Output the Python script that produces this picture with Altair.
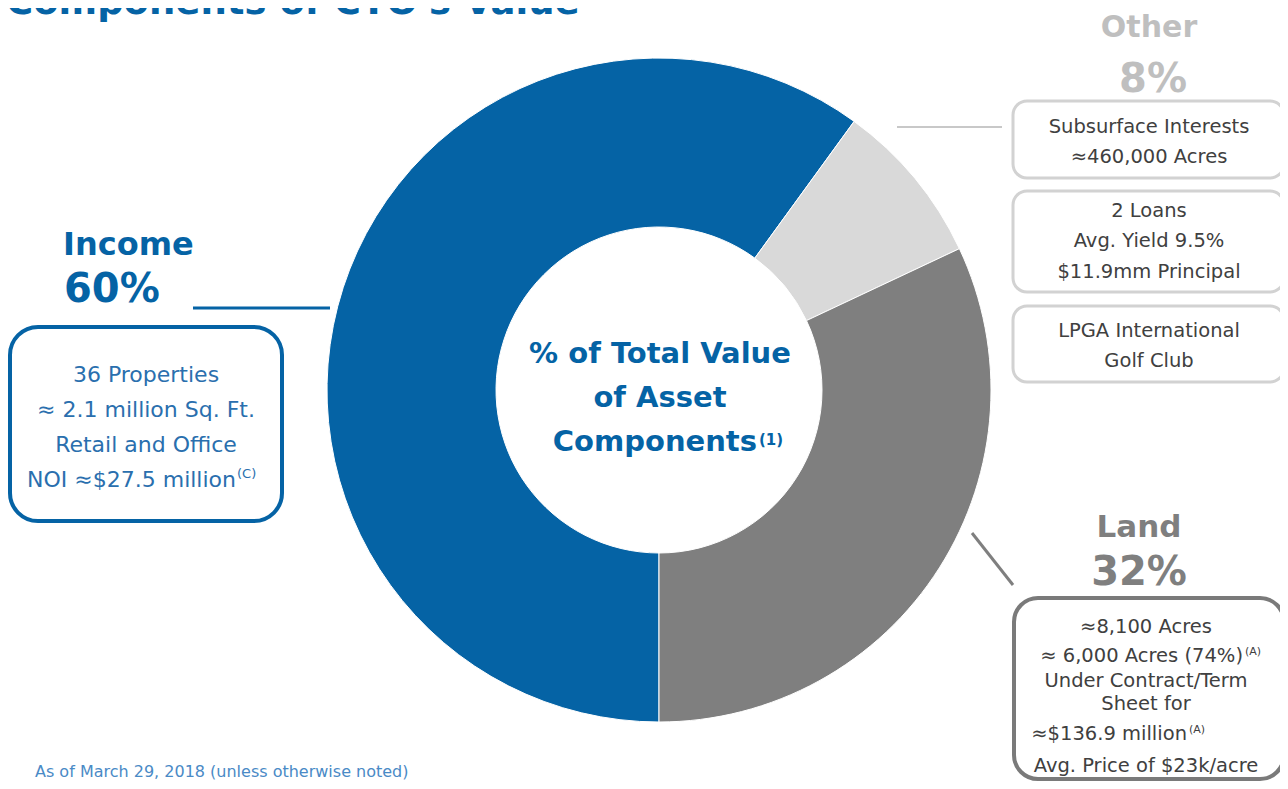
import math
import altair as alt
import pandas as pd

# ---- data ----
categories = ["Income", "Other", "Land"]
shares = [60, 8, 32]
stack_rank = [1, 2, 3]
slice_colors = ["#0563a5", "#d9d9d9", "#7f7f7f"]

title_text = "Components of CTO's Value"
center_lines = ["% of Total Value", "of Asset", "Components"]
center_sup = "(1)"
income_head = ["Income", "60%"]
income_lines = ["36 Properties", "≈ 2.1 million Sq. Ft.", "Retail and Office", "NOI ≈$27.5 million"]
income_sup = "(C)"
other_head = ["Other", "8%"]
other_box1 = ["Subsurface Interests", "≈460,000 Acres"]
other_box2 = ["2 Loans", "Avg. Yield 9.5%", "$11.9mm Principal"]
other_box3 = ["LPGA International", "Golf Club"]
land_head = ["Land", "32%"]
land_lines = ["≈8,100 Acres", "≈ 6,000 Acres (74%)", "Under Contract/Term", "Sheet for",
              "≈$136.9 million", "Avg. Price of $23k/acre"]
land_sup = "(A)"
footer_text = "As of March 29, 2018 (unless otherwise noted)"

donut = pd.DataFrame({"category": categories, "share": shares, "rank": stack_rank})

FONT = "DejaVu Sans"
OFF = 8
BLUE = "#0563a5"
BODY_BLUE = "#2a6fae"
DARK = "#404040"
one = pd.DataFrame({"k": [0]})


def txt(s, x, y, size, color, weight="normal", align="center"):
    return alt.Chart(one).mark_text(
        text=s, fontSize=size, font=FONT, fontWeight=weight, color=color,
        align=align, baseline="alphabetic"
    ).encode(x=alt.value(x - OFF), y=alt.value(y - OFF))


def box(x1, y1, x2, y2, color, width, radius):
    return alt.Chart(one).mark_rect(
        filled=False, stroke=color, strokeWidth=width, cornerRadius=radius
    ).encode(x=alt.value(x1 - OFF), x2=alt.value(x2 - OFF),
             y=alt.value(y1 - OFF), y2=alt.value(y2 - OFF))


def rule(x1, y1, x2, y2, color, width):
    return alt.Chart(one).mark_rule(color=color, strokeWidth=width).encode(
        x=alt.value(x1 - OFF), x2=alt.value(x2 - OFF),
        y=alt.value(y1 - OFF), y2=alt.value(y2 - OFF))


arc = alt.Chart(donut).mark_arc(stroke="white", strokeWidth=1).encode(
    theta=alt.Theta("share:Q", stack=True,
                    scale=alt.Scale(range=[math.pi, 3 * math.pi])),
    order=alt.Order("rank:Q"),
    color=alt.Color("category:N", legend=None,
                    scale=alt.Scale(domain=categories, range=slice_colors)),
    radius=alt.value(332),
    radius2=alt.value(163),
    x=alt.value(659 - OFF),
    y=alt.value(390 - OFF),
)

layers = [arc]

# title (cut off at top, as in the original slide)
layers.append(txt(title_text, 6, 14, 37, BLUE, "bold", "left"))

# centre text
layers.append(txt(center_lines[0], 660, 363, 29, BLUE, "bold"))
layers.append(txt(center_lines[1], 660, 407, 29, BLUE, "bold"))
layers.append(txt(center_lines[2], 757, 451, 29, BLUE, "bold", "right"))
layers.append(txt(center_sup, 759, 445, 15, BLUE, "bold", "left"))

# income
layers.append(txt(income_head[0], 63, 255, 32, BLUE, "bold", "left"))
layers.append(txt(income_head[1], 64, 302, 40, BLUE, "bold", "left"))
layers.append(rule(193, 308, 330, 308, BLUE, 3))
layers.append(box(10, 327, 282, 521, BLUE, 4, 28))
layers.append(txt(income_lines[0], 146, 382, 22, BODY_BLUE))
layers.append(txt(income_lines[1], 146, 417, 22, BODY_BLUE))
layers.append(txt(income_lines[2], 146, 452, 22, BODY_BLUE))
layers.append(txt(income_lines[3], 236, 487, 22, BODY_BLUE, "normal", "right"))
layers.append(txt(income_sup, 237, 478, 13, BODY_BLUE, "normal", "left"))

# other
layers.append(txt(other_head[0], 1149, 37, 30, "#bfbfbf", "bold"))
layers.append(txt(other_head[1], 1153, 92, 40, "#bfbfbf", "bold"))
layers.append(rule(897, 127, 1002, 127, "#c8c8c8", 2))
layers.append(box(1013, 101, 1284, 178, "#d2d2d2", 3, 14))
layers.append(box(1013, 191, 1284, 292, "#d2d2d2", 3, 14))
layers.append(box(1013, 306, 1284, 382, "#d2d2d2", 3, 14))
layers.append(txt(other_box1[0], 1149, 133, 19.5, DARK))
layers.append(txt(other_box1[1], 1149, 163, 19.5, DARK))
layers.append(txt(other_box2[0], 1149, 217, 19.5, DARK))
layers.append(txt(other_box2[1], 1149, 247, 19.5, DARK))
layers.append(txt(other_box2[2], 1149, 278, 19.5, DARK))
layers.append(txt(other_box3[0], 1149, 337, 19.5, DARK))
layers.append(txt(other_box3[1], 1149, 367, 19.5, DARK))

# land
layers.append(txt(land_head[0], 1139, 537, 31, "#7f7f7f", "bold"))
layers.append(txt(land_head[1], 1139, 585, 40, "#7f7f7f", "bold"))
layers.append(rule(972, 533, 1013, 585, "#7f7f7f", 3))
layers.append(box(1014, 598, 1284, 779, "#7a7a7a", 4, 24))
layers.append(txt(land_lines[0], 1146, 633, 19.5, DARK))
layers.append(txt(land_lines[1], 1243, 662, 19.5, DARK, "normal", "right"))
layers.append(txt(land_sup, 1245, 655, 11, DARK, "normal", "left"))
layers.append(txt(land_lines[2], 1146, 687, 19.5, DARK))
layers.append(txt(land_lines[3], 1146, 710, 19.5, DARK))
layers.append(txt(land_lines[4], 1187, 740, 19.5, DARK, "normal", "right"))
layers.append(txt(land_sup, 1189, 733, 11, DARK, "normal", "left"))
layers.append(txt(land_lines[5], 1146, 772, 19.5, DARK))

# footer
layers.append(txt(footer_text, 35, 777, 16, "#4a8ac6", "normal", "left"))

chart = alt.layer(*layers).properties(
    width=1272, height=773, padding=0, autosize="none"
).configure_view(stroke=None)

chart.save("out.html", embed_options={"renderer": "svg", "actions": False})
